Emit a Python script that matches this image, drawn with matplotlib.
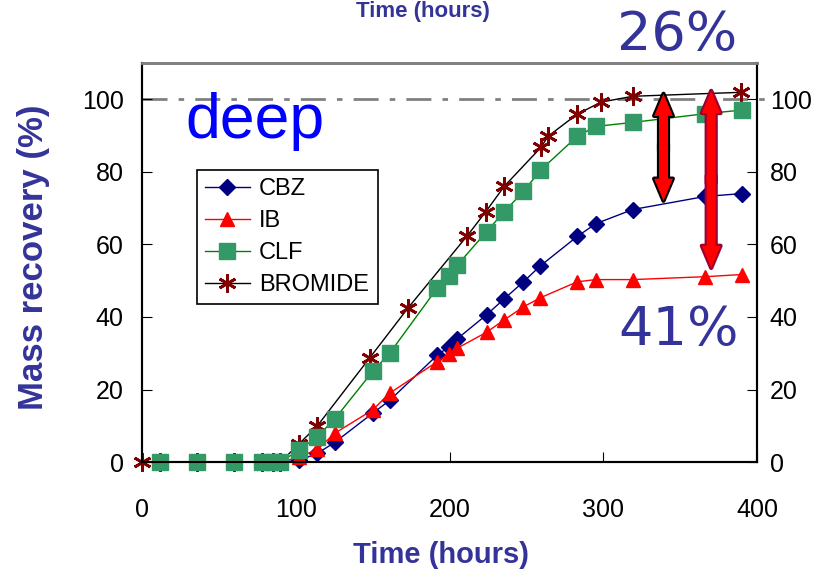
import matplotlib
matplotlib.use("Agg")
import matplotlib.pyplot as plt

plt.rcParams['font.family'] = ['Liberation Sans', 'DejaVu Sans']

# Sampling times (hours) shared by CBZ, IB and CLF
time_h = [12, 36, 60, 78, 85, 90, 102, 114, 125.5, 150, 161, 192, 199.5, 205,
          224, 235.5, 248, 259, 283, 295, 319, 366, 390]
cbz = [0, 0, 0, 0, 0, 0, 0.5, 2.4, 5.5, 13.5, 17, 29.5, 31.8, 34,
       40.6, 45, 49.7, 54.1, 62.2, 65.7, 69.6, 73.2, 74]
ib = [0, 0, 0, 0, 0, 0, 1.4, 3.5, 8, 14.4, 19, 27.7, 29.8, 31.4,
      35.8, 39.2, 42.8, 45.3, 49.7, 50.3, 50.3, 51.1, 51.7]
clf = [0, 0, 0, 0, 0, 0, 3.3, 7, 12, 25, 30, 48, 51.2, 54.3,
       63.5, 69, 74.6, 80.4, 89.8, 92.5, 93.6, 96, 97]

# Bromide tracer has its own sampling times
time_br = [0, 12, 36, 60, 78, 85, 90, 102, 114, 148, 173, 211.5, 223.5, 235.5,
           259.5, 264, 283, 298.5, 319, 389.6]
bromide = [0, 0, 0, 0, 0, 0, 0, 5, 10, 28.7, 42.5, 62.4, 69, 76,
           86.8, 89.8, 95.9, 99.2, 100.8, 101.9]

x_ticks = [0, 100, 200, 300, 400]
y_ticks = [0, 20, 40, 60, 80, 100]

label_col = "#333399"

fig = plt.figure(figsize=(8.25, 5.77), dpi=100)
ax = fig.add_axes([0.172, 0.199, 0.746, 0.692])

# series (markers not clipped so the zero points sit on the axis)
ax.plot(time_br, bromide, color="black", lw=1, marker=(6, 2, 0), ms=13,
        mec="#800000", mew=2, label="BROMIDE", zorder=2, clip_on=False)
ax.plot(time_h, cbz, color="#000080", lw=1, marker="D", ms=8,
        mfc="#000080", mec="#000080", label="CBZ", zorder=3, clip_on=False)
ax.plot(time_h, ib, color="red", lw=1, marker="^", ms=10,
        mfc="red", mec="red", label="IB", zorder=4, clip_on=False)
ax.plot(time_h, clf, color="#008000", lw=1, marker="s", ms=11,
        mfc="#339966", mec="#339966", label="CLF", zorder=5, clip_on=False)

# 100% reference line
ax.axhline(100, xmin=0, xmax=1.02, color="#808080", lw=2, ls=(0, (9, 4, 2, 4)),
           clip_on=False, zorder=1)

ax.set_xlim(0, 400)
ax.set_ylim(0, 110)
ax.set_xticks(x_ticks)
ax.set_yticks(y_ticks)
ax.tick_params(axis="x", direction="in", length=7, pad=26, labelsize=18)
ax.tick_params(axis="y", direction="in", length=7, pad=13, labelsize=18)

ax2 = ax.twinx()
ax2.set_ylim(0, 110)
ax2.set_yticks(y_ticks)
ax2.tick_params(axis="y", direction="in", length=7, pad=9, labelsize=18)

for a in (ax, ax2):
    for s in a.spines.values():
        s.set_color("black")
        s.set_linewidth(1.5)
    a.spines["top"].set_color("#808080")
    a.spines["top"].set_linewidth(2)

# legend in CBZ, IB, CLF, BROMIDE order
handles, labels = ax.get_legend_handles_labels()
order = [1, 2, 3, 0]
leg = ax.legend([handles[i] for i in order], [labels[i] for i in order],
                loc="upper left", bbox_to_anchor=(0.089, 0.732), borderaxespad=0,
                fontsize=17, frameon=True, fancybox=False, edgecolor="black",
                framealpha=1, handlelength=1.9, labelspacing=0.42,
                handletextpad=0.4, borderpad=0.35)
leg.get_frame().set_linewidth(1.2)
leg.set_zorder(7)


# double-headed fat arrows: edge-coloured layer under red layer
def fat_arrow(x, y_top, y_bot, edge, lw_edge):
    mid = (y_top + y_bot) / 2
    style = "simple,head_length=1.6,head_width=1.35,tail_width=0.65"
    for fc, ec, lw in ((edge, edge, lw_edge), ("red", "red", 0)):
        for tip, tail in ((y_top, mid - 1), (y_bot, mid + 1)):
            ax.annotate("", xy=(x, tip), xytext=(x, tail),
                        arrowprops=dict(arrowstyle=style, fc=fc, ec=ec, lw=lw,
                                        shrinkA=0, shrinkB=0, mutation_scale=10),
                        zorder=6)


fat_arrow(339, 101.5, 72, "black", 3)
fat_arrow(370, 102.3, 53.5, "#990033", 3)

# annotations
ax.text(0.07, 0.812, "deep", transform=ax.transAxes, fontsize=45,
        color="#0000ff", ha="left", va="baseline")
fig.text(0.748, 0.913, "26%", fontsize=39, color=label_col,
         family="DejaVu Sans", ha="left", va="baseline")
fig.text(0.75, 0.402, "41%", fontsize=39, color=label_col,
         family="DejaVu Sans", ha="left", va="baseline")

# axis titles
fig.text(0.041, 0.554, "Mass recovery (%)", rotation=90, fontsize=25,
         fontweight="bold", color=label_col, ha="center", va="center")
fig.text(0.535, 0.038, "Time (hours)", fontsize=21, fontweight="bold",
         color=label_col, ha="center", va="center")
# leftover title from the chart above, at the very top edge
fig.text(0.513, 0.999, "Time (hours)", fontsize=16, fontweight="bold",
         color=label_col, ha="center", va="top")

fig.savefig("out.png", dpi=100)
